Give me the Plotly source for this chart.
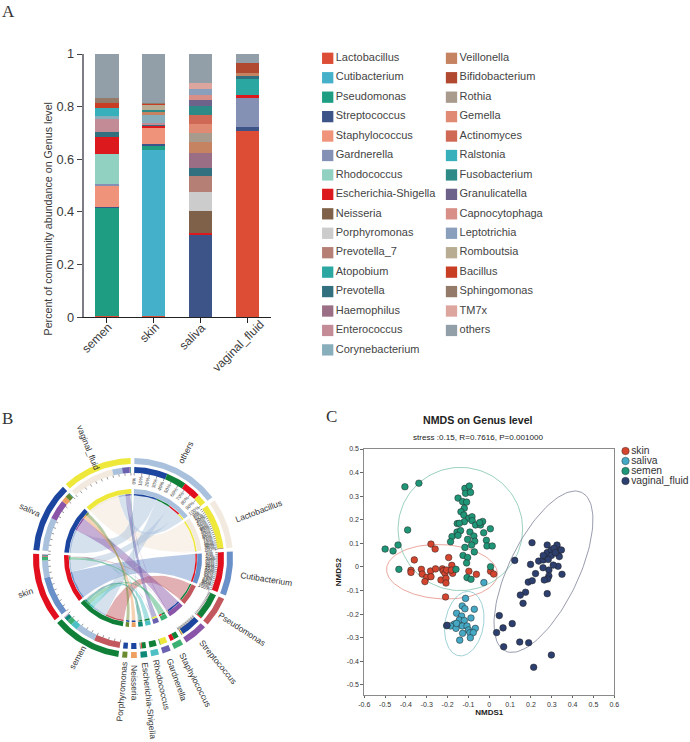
import math
import numpy as np
import plotly.graph_objects as go

# ---------- Panel A data ----------
genus_names = ["Lactobacillus","Cutibacterium","Pseudomonas","Streptococcus","Staphylococcus","Gardnerella",
               "Rhodococcus","Escherichia-Shigella","Neisseria","Porphyromonas","Prevotella_7","Atopobium",
               "Prevotella","Haemophilus","Enterococcus","Corynebacterium","Veillonella","Bifidobacterium",
               "Rothia","Gemella","Actinomyces","Ralstonia","Fusobacterium","Granulicatella","Capnocytophaga",
               "Leptotrichia","Romboutsia","Bacillus","Sphingomonas","TM7x","others"]
genus_colors = ["#dd4c35","#44b0c9","#1f9d82","#3c5488","#ef947b","#8491b4","#91d1c2","#dc1a1e","#7e6148",
                "#cccccc","#b67f76","#2ba7a2","#33707f","#9a6f85","#c28b96","#88adbb","#c58361","#b0492f",
                "#a89a8c","#e08a74","#cf6855","#37b0bb","#2d8a86","#6d6289","#d88f87","#8a9fbb","#b8ad92",
                "#c83e24","#947a68","#dca69f","#939fa8"]
sample_names = ["semen","skin","saliva","vaginal_fluid"]
semen_values = [.004,0,.412,.004,.08,.008,.112,.064,0,0,0,0,.021,0,.048,.012,0,0,0,0,0,.03,0,0,0,0,0,.02,.018,0,.167]
skin_values = [.004,.631,.016,.007,.06,0,0,.012,0,0,0,0,.004,0,.003,.035,.006,0,0,0,0,0,.008,0,0,0,.023,.003,.002,0,.186]
saliva_values = [0,0,0,.313,0,0,0,.009,.083,.072,.061,0,.028,.059,0,0,.042,0,.034,.034,.032,0,.037,.02,.021,.023,0,0,0,.023,.109]
vaginal_values = [.709,0,0,.014,0,.111,0,.01,0,0,0,.061,.013,0,0,0,.009,.039,0,0,0,0,0,0,0,0,0,0,0,0,.034]
sample_values = [semen_values, skin_values, saliva_values, vaginal_values]
y_ticks = [0, .2, .4, .6, .8, 1]
y_tick_text = ["0", "0.2", "0.4", "0.6", "0.8", "1"]

# ---------- Panel B data ----------
chord_genera = ["others","Lactobacillus","Cutibacterium","Pseudomonas","Streptococcus","Staphylococcus",
                "Gardnerella","Rhodococcus","Escherichia-Shigella","Neisseria","Porphyromonas"]
chord_genus_colors = ["#a9c1dc","#f3eadf","#6a90c9","#c2585e","#8a55a8","#3cb072","#6a62b0","#4cc0c4",
                      "#108878","#eda060","#6a8a30"]
chord_sample_colors = ["#108038","#e2101f","#1c45a0","#eee83a"]

# ---------- Panel C data ----------
skin_x = [-.28,-.26,-.36,-.195,-.18,-.225,-.376,-.376,-.326,-.322,-.30,-.309,-.282,-.28,-.258,-.221,-.213,-.205,-.176,-.232,-.208,-.208,-.21,-.098,-.062,.006,.021,-.182]
skin_y = [.097,.076,.03,.04,.007,-.008,-.014,-.023,-.01,-.03,-.044,-.062,-.017,-.041,-.008,-.016,-.027,-.013,-.027,-.055,-.048,-.068,-.127,-.018,-.031,-.018,-.03,-.013]
saliva_x = [-.026,-.114,-.13,-.117,-.072,-.157,-.133,-.088,-.144,-.12,-.168,-.186,-.16,-.13,-.107,-.10,-.128,-.093,-.067,-.077,-.142,-.091,-.205,-.157]
saliva_y = [-.066,-.133,-.165,-.177,-.179,-.196,-.208,-.216,-.225,-.227,-.242,-.25,-.26,-.25,-.25,-.267,-.281,-.278,-.26,-.278,-.31,-.30,-.249,-.239]
semen_x = [-.405,-.338,-.392,-.50,-.462,-.438,-.434,-.16,-.117,-.096,-.114,-.09,-.15,-.128,-.109,-.12,-.136,-.122,-.099,-.083,-.12,-.154,-.144,-.082,-.066,-.042,-.032,-.046,.005,-.027,-.155,-.138,-.093,-.074,-.179,-.15,-.186,-.104,-.07,-.085,-.014,-.011,.014,-.117,-.072,-.126,-.104,-.109,.006,-.107,-.088]
semen_y = [.34,.355,.157,.076,.068,.093,-.01,-.01,.333,.343,.312,.316,.292,.277,.275,.249,.234,.22,.206,.213,.192,.184,.185,.196,.178,.178,.193,.188,.162,.145,.148,.154,.148,.131,.129,.134,.107,.117,.109,.093,.113,.089,.089,.083,.064,.049,.04,.017,.001,-.045,-.052]
vaginal_x = [.205,.122,.198,.222,.187,.206,.174,.149,.162,.048,.11,.066,.035,.069,.146,.189,.298,.213,-.203,.278,.349,.33,.307,.286,.286,.28,.264,.258,.237,.259,.27,.278,.259,.278,.298,.325,.31,.339,.325,.336,.298,.317,.346,.283]
vaginal_y = [.103,.028,.011,-.028,-.064,-.058,-.107,-.119,-.154,-.206,-.24,-.258,-.278,-.338,-.318,-.321,-.373,-.425,-.247,-.113,-.031,.003,.008,-.013,-.038,-.051,-.055,-.003,.025,.03,.044,.061,.049,.093,.072,.093,.079,.072,.058,.044,.049,.061,.072,.032]
nmds_names = ["skin","saliva","semen","vaginal_fluid"]
nmds_colors = ["#d4452f","#45a8c4","#1f9677","#2d3f6e"]
ellipse_colors = ["#e58f85","#85c4cc","#80c4ac","#7d8398"]
# centre x, centre y, major semi-vector, minor semi-vector of each group's ellipse
ellipse_params = [(-.227,-.02,.266,-.011,.004,.115),(-.12,-.24,.026,.136,.091,-.013),
                  (-.139,.161,.299,0,0,.261),(.26,-.02,.184,.336,.15,-.064)]
nmds_ticks = [round(-.6+.1*i, 1) for i in range(13)]
nmds_y_ticks = [round(-.5+.1*i, 1) for i in range(11)]

W, H = 690, 742
TXT = "#3a3a3a"
FONT = "Liberation Sans"
fig = go.Figure()

# ---------- Panel A: stacked bars ----------
for i, g in enumerate(genus_names):
    fig.add_bar(x=sample_names, y=[s[i] for s in sample_values], name=g, marker=dict(color=genus_colors[i], line_width=0),
                width=.5, showlegend=False, xaxis="x", yaxis="y")

# ---------- Legend of panel A ----------
def page_scatter(**kw):
    fig.add_scatter(xaxis="x3", yaxis="y3", showlegend=False, hoverinfo="skip", cliponaxis=False, **kw)

for col, (x0, lo, hi) in enumerate([(327.7, 0, 16), (451.5, 16, 31)]):
    page_scatter(x=[x0]*(hi-lo), y=[58.3+19.44*k for k in range(hi-lo)], mode="markers+text",
                 marker=dict(symbol="square", size=11.3, color=genus_colors[lo:hi], line_width=0),
                 text=genus_names[lo:hi], textposition="middle right", textfont=dict(size=11, color="#444", family=FONT))

# ---------- Panel B: chord diagram ----------
CX, CY = 133, 558
chord_idx = [genus_names.index(g) if g != "others" else None for g in chord_genera]
named = [i for i in chord_idx if i is not None]
matrix = np.zeros((len(chord_genera), 4))
for j, s in enumerate(sample_values):
    for r, i in enumerate(chord_idx):
        matrix[r, j] = s[i] if i is not None else sum(v for k, v in enumerate(s) if k not in named)
GAP = 2.2
UNIT = (360 - GAP*15) / (2*matrix.sum())
def pt(r, a):
    t = math.radians(a)
    return CX + r*math.sin(t), CY - r*math.cos(t)
def arc(r, a0, a1, n=None):
    n = n or max(3, int(abs(a1-a0)/1.5)+2)
    return [pt(r, a) for a in np.linspace(a0, a1, n)]
def band(r0, r1, a0, a1, color):
    p = arc(r1, a0, a1) + arc(r0, a1, a0)
    page_scatter(x=[q[0] for q in p]+[p[0][0]], y=[q[1] for q in p]+[p[0][1]], mode="lines", fill="toself",
                 fillcolor=color, line=dict(width=0, color=color))
def rgba(c, al):
    return f"rgba({int(c[1:3],16)},{int(c[3:5],16)},{int(c[5:7],16)},{al})"

# sector layout: genera clockwise from the top, then samples
sectors = []
a = 0.8
for r in range(len(chord_genera)):
    span = matrix[r].sum()*UNIT
    sectors.append(("g", r, a, a+span)); a += span+GAP
for j in range(4):
    span = matrix[:, j].sum()*UNIT
    sectors.append(("s", j, a, a+span)); a += span+GAP

slots_g, slots_s = {}, {}
for kind, k, a0, a1 in sectors:
    vals = matrix[k] if kind == "g" else matrix[:, k]
    pos = a0
    for o in np.argsort(-vals, kind="stable"):
        if vals[o] <= 0:
            continue
        end = pos + vals[o]*UNIT
        if kind == "g":
            slots_g[(k, o)] = (pos, end)
        else:
            slots_s[(o, k)] = (pos, end)
        pos = end

# ribbons, big ones first
pairs = sorted(slots_g, key=lambda p: -matrix[p])
RIB = 62.5
def bez(p0, p1, n=28):
    out = []
    for t in np.linspace(0, 1, n):
        out.append(((1-t)**2*p0[0]+2*t*(1-t)*CX+t*t*p1[0], (1-t)**2*p0[1]+2*t*(1-t)*CY+t*t*p1[1]))
    return out
for p in pairs:
    g0, g1 = slots_g[p]; s0, s1 = slots_s[p]
    path = arc(RIB, g0, g1) + bez(pt(RIB, g1), pt(RIB, s0)) + arc(RIB, s0, s1) + bez(pt(RIB, s1), pt(RIB, g0))
    col = chord_genus_colors[p[0]]
    page_scatter(x=[q[0] for q in path], y=[q[1] for q in path], mode="lines", fill="toself",
                 fillcolor=rgba(col, .62 if p[0] == 1 else .48), line=dict(width=0, color="rgba(0,0,0,0)"))

# rings
for kind, k, a0, a1 in sectors:
    own = chord_genus_colors[k] if kind == "g" else chord_sample_colors[k]
    band(94, 100, a0, a1, own)
    band(64.3, 69, a0, a1, own)
for (r, j), (a0, a1) in slots_g.items():
    band(85, 91, a0, a1, chord_sample_colors[j])
    band(62.5, 64, a0, a1, chord_sample_colors[j])
for (r, j), (a0, a1) in slots_s.items():
    band(85, 91, a0, a1, chord_genus_colors[r])
    band(62.5, 64, a0, a1, chord_genus_colors[r])

# ticks and percentage labels
tx, ty = [], []
annots = []
for kind, k, a0, a1 in sectors:
    span = a1-a0
    step = 10 if span > 35 or kind == "s" else 5
    if kind == "g" and k in (1, 2):
        step = 5
    if span < 9:
        continue
    for pct in range(0, 101, step):
        a = a0 + span*pct/100
        p0, p1 = pt(85, a), pt(82.5, a)
        tx += [p0[0], p1[0], None]; ty += [p0[1], p1[1], None]
        if kind == "g" and k <= 2:
            c = pt(77.5, a)
            annots.append(dict(x=c[0], y=c[1], text=f"{pct}%", textangle=a-90, font=dict(size=4.8, color="#444", family=FONT)))
page_scatter(x=tx, y=ty, mode="lines", line=dict(color="#333", width=.5))

for kind, k, a0, a1 in sectors:
    name = chord_genera[k] if kind == "g" else sample_names[k]
    mid = (a0+a1)/2
    rad = min(104.5+2.3*len(name), 144) if kind == "g" else (119 if name == "vaginal_fluid" else 113.5)
    c = pt(rad, mid)
    ang = mid-90 if mid < 180 else mid+90
    annots.append(dict(x=c[0], y=c[1], text=name, textangle=((ang+180) % 360)-180,
                       font=dict(size=8.5, color="#333", family=FONT)))

# ---------- Panel C: NMDS ----------
xs = [skin_x, saliva_x, semen_x, vaginal_x]
ys = [skin_y, saliva_y, semen_y, vaginal_y]
t = np.linspace(0, 2*np.pi, 120)
for e, c in zip(ellipse_params, ellipse_colors):
    fig.add_scatter(x=e[0]+e[2]*np.cos(t)+e[4]*np.sin(t), y=e[1]+e[3]*np.cos(t)+e[5]*np.sin(t), mode="lines",
                    line=dict(color=c, width=.8), showlegend=False, hoverinfo="skip", xaxis="x2", yaxis="y2")
for name, c, x, y in zip(nmds_names, nmds_colors, xs, ys):
    fig.add_scatter(x=x, y=y, mode="markers", name=name, showlegend=False, xaxis="x2", yaxis="y2",
                    marker=dict(color=c, size=6.6, line=dict(color="#222", width=.5)))
page_scatter(x=[625.5]*4, y=[451, 461, 471, 481], mode="markers+text", text=nmds_names, textposition="middle right",
             marker=dict(color=nmds_colors, size=7.5, line=dict(color="#222", width=.4)),
             textfont=dict(size=10.3, color="#333", family=FONT))

for txt, x, y, s in [("<b>NMDS on Genus level</b>", 478, 420, 10.6), ("stress :0.15, R=0.7616, P=0.001000", 478, 437, 8.1)]:
    annots.append(dict(x=x, y=y, text=txt, font=dict(size=s, color="#222", family=FONT)))
for letter, x, y in [("A", 8, 11), ("B", 7, 418), ("C", 331, 416)]:
    annots.append(dict(x=x, y=y, text=letter, font=dict(size=17, color="#333", family="Liberation Serif")))
# panel A's axis title and rotated category labels sit off-centre in the reference
annots.append(dict(x=47, y=219.5, text="Percent of community abundance on Genus level", textangle=-90,
                   font=dict(size=10.7, color=TXT, family=FONT)))
for name, x, y, in zip(sample_names, [97, 149, 192, 238.3], [338, 333, 337, 346]):
    annots.append(dict(x=x, y=y, text=name, textangle=-45, font=dict(size=12, color=TXT, family=FONT)))
for a_ in annots:
    a_.update(xref="x3", yref="y3", showarrow=False, xanchor="center", yanchor="middle")

def fmt(v):
    return "0" if v == 0 else f"{v:.1f}"

fig.update_layout(
    width=W, height=H, margin=dict(l=0, r=0, t=0, b=0, autoexpand=False), barmode="stack", bargap=.5, paper_bgcolor="white",
    plot_bgcolor="rgba(0,0,0,0)", annotations=annots, showlegend=False,
    font=dict(family=FONT, color=TXT),
    xaxis=dict(domain=[83.5/W, 270.7/W], anchor="y", range=[-.5, 3.5], type="category", categoryorder="array",
               categoryarray=sample_names, showline=True, linecolor="#222", linewidth=1, ticks="outside", ticklen=5,
               tickcolor="#222", showticklabels=False, showgrid=False, zeroline=False),
    yaxis=dict(domain=[1-317.3/H, 1-54/H], anchor="x", range=[0, 1], showline=True, linecolor="#7d7d85", linewidth=1.5,
               ticks="outside", ticklen=5, tickcolor="#444", tickvals=y_ticks, ticktext=y_tick_text,
               tickfont=dict(size=12.8, color=TXT), showgrid=False, zeroline=False),
    xaxis2=dict(domain=[364.3/W, 614.3/W], anchor="y2", range=[-.6, .6], showline=True, mirror=True, linecolor="#8a8a8a",
                linewidth=1, ticks="outside", ticklen=2, tickcolor="#666", tickvals=nmds_ticks,
                ticktext=[fmt(v) for v in nmds_ticks], tickfont=dict(size=7, color="#333"), showgrid=False, zeroline=False,
                title=dict(text="<b>NMDS1</b>", font=dict(size=8, color="#222"), standoff=0)),
    yaxis2=dict(domain=[1-695.3/H, 1-449/H], anchor="x2", range=[-.5437, .5], showline=True, mirror=True, linecolor="#8a8a8a",
                linewidth=1, ticks="outside", ticklen=3, tickcolor="#666", tickvals=nmds_y_ticks,
                ticktext=[fmt(v) for v in nmds_y_ticks], tickfont=dict(size=7, color="#333"), showgrid=False, zeroline=False,
                title=dict(text="<b>NMDS2</b>", font=dict(size=8, color="#222"), standoff=4)),
    xaxis3=dict(domain=[0, 1], anchor="y3", range=[0, W], visible=False),
    yaxis3=dict(domain=[0, 1], anchor="x3", range=[H, 0], visible=False),
)
fig.write_html("out.html", config=dict(displayModeBar=False),
               post_script="document.body.style.margin='0';")
